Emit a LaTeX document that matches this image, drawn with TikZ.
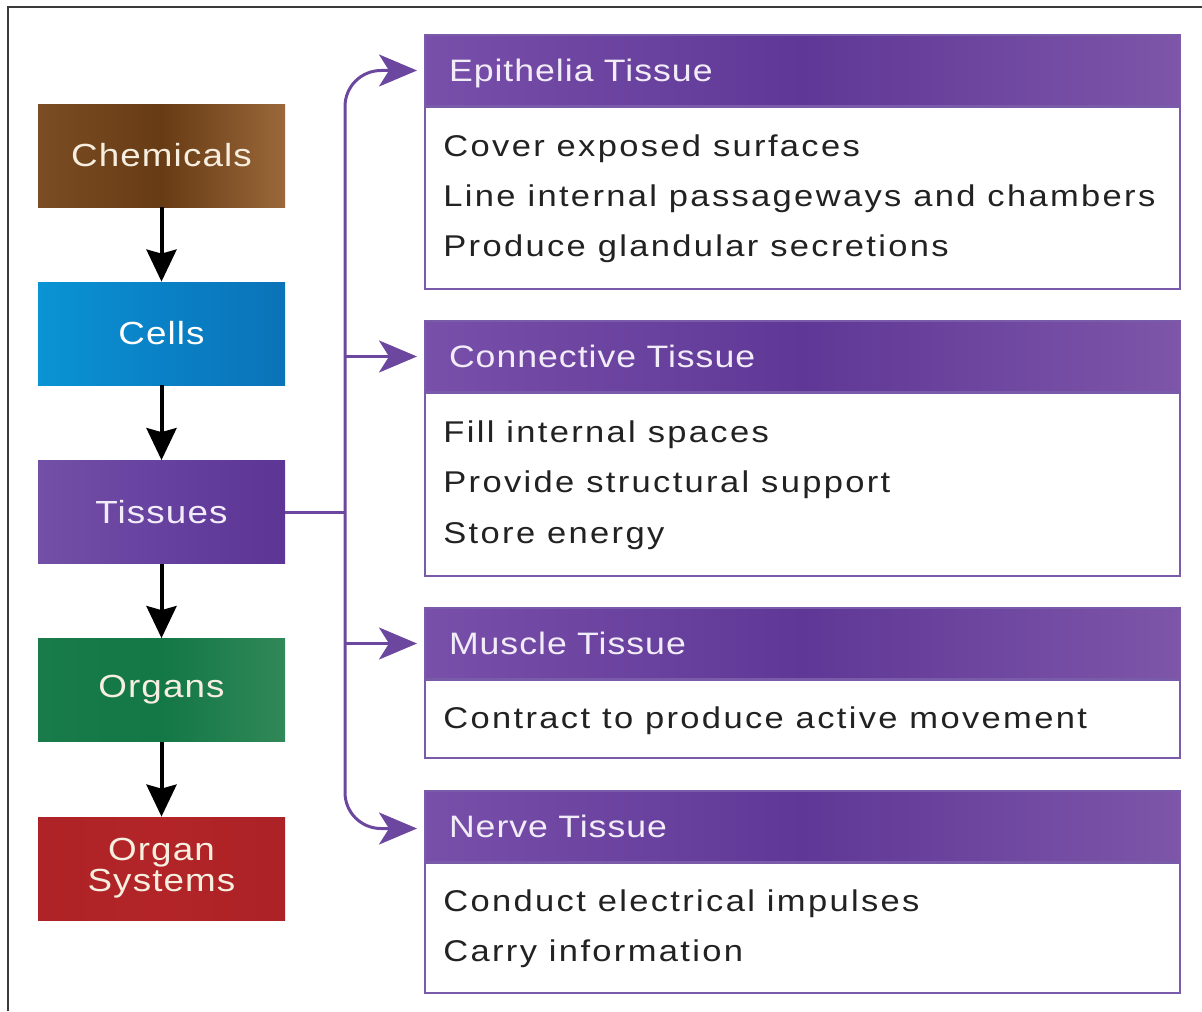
\documentclass[tikz,border=0pt]{standalone}
\usepackage{fontspec}
\setmainfont{Liberation Sans}
\newfontfamily\bodyfnt[FakeStretch=1.15,LetterSpace=7.8]{Liberation Sans}
\newfontfamily\headfnt[FakeStretch=1.15,LetterSpace=3.2]{Liberation Sans}
\newfontfamily\lblfnt[FakeStretch=1.15,LetterSpace=3.5]{Liberation Sans}
\usetikzlibrary{arrows.meta,calc}
\definecolor{frame}{HTML}{3A3A3A}
\definecolor{pline}{HTML}{6C47A0}
\definecolor{pedge}{HTML}{7A5BAA}
\definecolor{phL}{HTML}{7850AA}
\definecolor{phM}{HTML}{5F3796}
\definecolor{phR}{HTML}{7D56A9}
\definecolor{labtxt}{HTML}{F6EEDF}
\definecolor{headtxt}{HTML}{F2ECF8}
\definecolor{bodytxt}{HTML}{222222}
\definecolor{chL}{HTML}{7A4D24}
\definecolor{chM}{HTML}{673B14}
\definecolor{chR}{HTML}{9A683A}
\definecolor{ceL}{HTML}{0A94D4}
\definecolor{ceM}{HTML}{0A81C6}
\definecolor{ceR}{HTML}{0B73B8}
\definecolor{tiL}{HTML}{7350A6}
\definecolor{tiM}{HTML}{6641A0}
\definecolor{tiR}{HTML}{5D3594}
\definecolor{orL}{HTML}{187B49}
\definecolor{orM}{HTML}{137746}
\definecolor{orR}{HTML}{318858}
\definecolor{osL}{HTML}{AE2327}
\definecolor{osM}{HTML}{B22428}
\definecolor{osR}{HTML}{AC2226}
\begin{document}
\begin{tikzpicture}[x=0.5pt,y=-0.5pt,
  leftbox/.style={minimum width=123.5pt, minimum height=51.5pt, inner sep=0pt, align=center,
    text=labtxt, font=\lblfnt\fontsize{16pt}{15.5pt}\selectfont},
  blkarrow/.style={line width=2pt, black, -{Stealth[length=16pt, width=15pt, inset=2pt]}},
  parrow/.style={line width=1.5pt, pline, shorten >=3.5pt, -{Stealth[length=19pt, width=16pt, inset=5pt]}},
  pconn/.style={line width=1.5pt, pline},
  panelhead/.style={minimum width=377.5pt, minimum height=35.5pt, inner xsep=12pt, inner ysep=0pt,
    text width=353.5pt, align=left, text height=11pt, text depth=0pt,
    left color=phL, right color=phR, middle color=phM, draw=pedge, line width=1pt,
    text=headtxt, font=\headfnt\fontsize{15.5pt}{18pt}\selectfont},
  panelbody/.style={minimum width=377.5pt, inner sep=0pt, draw=pedge, line width=1pt, fill=white, anchor=north},
  bodytext/.style={anchor=base west, inner sep=0pt, text=bodytxt, font=\bodyfnt\fontsize{15pt}{18pt}\selectfont}
]
\useasboundingbox (0,0) rectangle (1202,1011);
% frame
\draw[line width=1pt, frame] (8,1011) -- (8,7) -- (1202,7);

% left column
\node[leftbox, left color=chL, right color=chR, middle color=chM] (chem) at (161.5,155.5) {Chemicals};
\node[leftbox, text=white, left color=ceL, right color=ceR, middle color=ceM] (cells) at (161.5,333.5) {Cells};
\node[leftbox, text=headtxt, left color=tiL, right color=tiR, middle color=tiM] (tiss) at (161.5,512) {Tissues};
\node[leftbox, left color=orL, right color=orR, middle color=orM] (org) at (161.5,690) {Organs};
\node[leftbox, left color=osL, right color=osR, middle color=osM] (sys) at (161.5,868.5) {Organ\\Systems};

\draw[blkarrow] (chem.south) -- (cells.north);
\draw[blkarrow] (cells.south) -- (tiss.north);
\draw[blkarrow] (tiss.south) -- (org.north);
\draw[blkarrow] (org.south) -- (sys.north);

% panels
\node[panelbody, minimum height=91pt] (epiB) at (802.5,106) {};
\node[panelhead] (epiH) at (802.5,70.5) {Epithelia Tissue};
\node[panelbody, minimum height=91.5pt] (conB) at (802.5,392) {};
\node[panelhead] (conH) at (802.5,356.5) {Connective Tissue};
\node[panelbody, minimum height=39pt] (musB) at (802.5,679) {};
\node[panelhead] (musH) at (802.5,643.5) {Muscle Tissue};
\node[panelbody, minimum height=65pt] (nerB) at (802.5,862) {};
\node[panelhead] (nerH) at (802.5,826.5) {Nerve Tissue};

\node[bodytext] (e1) at (443,156) {Cover exposed surfaces};
\node[bodytext] (e2) at (443,206) {Line internal passageways and chambers};
\node[bodytext] (e3) at (443,256) {Produce glandular secretions};
\node[bodytext] (c1) at (443,442) {Fill internal spaces};
\node[bodytext] (c2) at (443,492) {Provide structural support};
\node[bodytext] (c3) at (443,543) {Store energy};
\node[bodytext] (m1) at (443,728) {Contract to produce active movement};
\node[bodytext] (n1) at (443,911) {Conduct electrical impulses};
\node[bodytext] (n2) at (443,961) {Carry information};

% connectors
\coordinate (j) at (345,512);
\draw[pconn] (tiss.east) -- (j);
\draw[parrow, rounded corners=18pt] (j) |- (epiH.west);
\draw[parrow, rounded corners=18pt] (j) |- ([yshift=-1pt]nerH.west);
\draw[parrow] (j |- conH.west) -- (conH.west);
\draw[parrow] (j |- musH.west) -- (musH.west);
\end{tikzpicture}
\end{document}
